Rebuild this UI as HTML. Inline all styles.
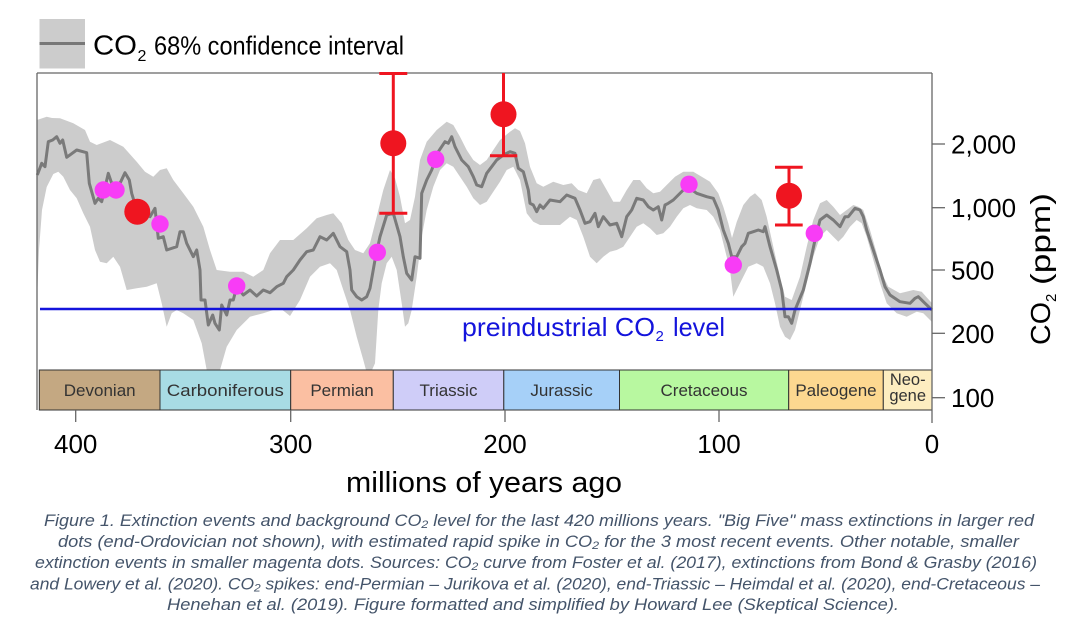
<!DOCTYPE html>
<html>
<head>
<meta charset="utf-8">
<style>
html,body{margin:0;padding:0;background:#fff;}
svg{display:block;}
text{font-family:"Liberation Sans",Arial,sans-serif;}
</style>
</head>
<body>
<svg width="1074" height="634" viewBox="0 0 1074 634" xmlns="http://www.w3.org/2000/svg">
<rect width="1074" height="634" fill="#fff"/>

<!-- legend -->
<rect x="39.5" y="19" width="45.5" height="49.5" fill="#cccccc"/>
<line x1="39.5" y1="43.5" x2="85" y2="43.5" stroke="#777" stroke-width="3"/>
<text x="93" y="54.5" font-size="28" textLength="44" lengthAdjust="spacingAndGlyphs" fill="#000">CO</text>
<text x="137.5" y="61" font-size="16" fill="#000">2</text>
<text x="154" y="54.5" font-size="26" textLength="250" lengthAdjust="spacingAndGlyphs" fill="#000">68% confidence interval</text>

<!-- confidence band -->
<polygon fill="#cccccc" points="
37,120 46.7,116.7 52,118 60,118.3 73.3,123.3 85,130 90,141.7 96.7,145 110,140 123.3,146.7 136.7,161.7 145,171.7 153.3,176.7 160,170 166.7,168.3 173.3,180 183.3,193.3 193.3,206.7 203.3,226.7 210,250 216.7,270 230,271.7 243.3,271.7 253.3,276.7 263.3,270 270,253.3 280,240 293.3,240 306.7,228.3 316.7,218.3 326.7,215 333.3,213.3 341.7,223.3 348.3,240 355,250 363.3,253.3 370,243.3 376.7,216.7 383.3,190 390,170 395,178.3 400,196.7 405,223.3 410,220 415,196.7 420,160 426.7,141.7 436.7,130 446.7,121.7 453.3,125 460,136.7 466.7,150 473.3,160 480,165 486.7,160 493.3,150 500,140 510,131.7 515,128.3 520,131 525,143.3 530,166.7 536.7,183.3 543.3,186.7 553.3,181.7 563.3,185 571.7,183.3 578.3,190 586.7,193.3 593.3,180 600,178.3 606.7,190 613.3,201.7 620,201.7 626.7,190 633.3,180 640,180 646.7,188.3 653.3,193.3 660,191.7 666.7,185 675,176.7 683.3,171.7 693.3,171.7 701.7,176.7 710,181.7 718.3,193.3 723.3,206.7 728.3,223.3 732,238 736.7,222 743.3,205 750,196.7 755,193.3 761.7,200 766.7,216.7 773.3,246.7 780,276.7 785,296.7 791.7,300 800,276.7 806.7,246.7 813.3,220 820,203.3 826.7,200 833.3,206.7 840,215 846.7,210 853.3,205 858.3,206.7 863.3,210 870,230 876.7,253.3 881.7,273.3 888.3,286.7 900,293.3 913.3,290 921.7,291.7 932,303.3
932,322 923.3,313.3 916.7,311.7 906.7,316.7 896.7,313.3 886.7,303.3 880,283.3 873.3,260 866.7,236.7 861.7,223.3 856.7,220 850,226.7 843.3,236.7 838.3,241.7 833.3,236.7 826.7,230 820,236.7 813.3,256.7 806.7,283.3 800,310 795,330 790,340 785,336.7 780,326.7 775,303.3 770,283.3 763.3,266.7 756.7,263.3 748.3,266.7 740,283.3 733.3,296.7 730,270 725,250 720,230 713.3,216.7 706.7,210 696.7,208.3 690,205 683.3,208.3 676.7,216.7 670,226.7 663.3,233.3 656.7,235 650,228.3 643.3,223.3 636.7,226.7 630,236.7 623.3,246.7 616.7,250 610,251.7 603.3,256.7 596.7,263.3 590,256.7 583.3,236.7 576.7,220 570,216.7 560,225 540,225 533.3,221.7 526.7,213.3 520,180 513.3,166.7 506.7,170 500,181.7 493.3,191.7 486.7,201.7 480,205 473.3,198.3 466.7,186.7 460,176.7 453.3,166.7 446.7,163.3 440,170 433.3,186.7 426.7,210 421.7,236.7 416.7,276.7 411.7,310 408.3,323.3 405,326.7 401.7,303.3 396.7,270 391.7,256.7 386.7,263.3 381.7,283.3 378.3,310 375,363.3 372,370 366,370 363.3,360 356.7,336.7 350,310 343.3,290 336.7,270 330,263.3 320,266.7 310,276.7 300,300 290,316 280,308 273.3,310 263.3,313.3 250,316.7 236.7,330 226.7,346.7 220,370 206.7,370 201.7,343.3 193.3,320 183.3,313.3 176.7,310 171.7,313.3 166.7,326.7 161.7,303.3 156.7,283.3 146.7,286.7 136.7,288.3 126.7,290 120,266.7 113.3,256.7 106.7,263.3 100,261.7 95,250 90,226.7 83.3,213.3 76.7,198.3 70,190 63.3,176.7 58.3,171.7 53.3,174 46.7,187 42,210 39,250 37,300"/>

<!-- mean line -->
<polyline fill="none" stroke="#7a7a7a" stroke-width="3" stroke-linejoin="round" points="
37.3,175 41.7,163.3 45,166.7 48.3,141.7 52.7,140 56.7,136.7 60,143.3 62.7,140 66.7,157.3 76.7,150 86.7,152.7 89.3,183.3 95,203.3 98.3,198.3 101.7,201.7 108.3,173.3 111.7,183.3 120,183.3 125,172.7 129.3,180 131.7,193.3 136.7,210 150,216.7 155,208.3 158.3,238.3 163.3,236.7 166.7,250 176.7,246.7 180,231.7 183.3,231.7 186.7,243.3 193.3,256.7 196.7,250 200,270 201,300 205,300 208.3,325 212.7,315 215,323.3 219.3,330 221.7,305 226.7,315 230,300 233.3,300 236.7,286.7 243.3,295 250,290 256.7,296 263.3,290 270,292.7 276.7,286.7 283.3,283.3 286.7,276.7 293.3,270 300,260 306.7,251.7 313.3,250 320,236.7 326.7,240 333.3,233.3 340,246.7 346.7,251.7 350,270 351.7,290 356.7,296.7 361.7,300 366.7,296.7 370,288.3 375,260 380,236.7 386.7,215 393.3,213.3 400,236.7 403.3,256.7 406.7,273.3 411.7,280 415,256.7 420,258.3 421.7,193.3 426.7,180 431.7,170 438.3,151.7 445,141.7 448.3,143.3 451.7,136.7 455,146.7 461.7,160 468.3,166.7 473.3,176.7 476.7,185 481.7,186.7 486.7,173.3 491.7,166.7 496.7,160 503.3,155 510,151.7 515,153.3 518.3,168.3 523.3,171.7 528.3,190 530,203.3 533.3,205 536.7,211.7 540,205 543.3,208.3 550,200 560,201.7 566.7,195 575,198.3 580,210 585,223.3 590,221.7 595,213.3 598.3,226.7 603.3,216.7 610,225 616.7,223.3 621.7,236.7 626.7,216.7 631.7,210 636.7,198.3 643.3,200 648.3,206.7 653.3,210 658.3,206.7 661.7,220 665,205 668.3,203.3 673.3,200 678.3,195 683.3,190 690,188.3 696.7,193.3 706.7,196.7 713.3,198.3 718.3,210 723.3,230 728.3,243.3 731.7,256.7 736.7,256.7 741.7,246.7 745,243.3 748.3,233.3 753.3,231.7 758.3,230 763.3,231.7 765,226.7 770,246.7 776.7,270 781.7,290 785,316.7 788.3,316.7 791.7,323.3 795,310 803.3,290 810,263.3 815,240 820,220 826.7,215 833.3,220 840,226.7 845,216.7 848.3,216.7 855,208.3 860,210 863.3,216.7 866.7,230 873.3,250 880,270 885,286.7 890,295 900,301.7 910,303.3 915,298.3 918.3,296.7 925,303.3 932,310"/>

<!-- preindustrial line -->
<line x1="40" y1="309" x2="932" y2="309" stroke="#1414dc" stroke-width="2.5"/>
<text x="462" y="336" font-size="26" textLength="193" lengthAdjust="spacingAndGlyphs" fill="#1414dc">preindustrial CO</text>
<text x="655.5" y="341" font-size="15" fill="#1414dc">2</text>
<text x="673" y="336" font-size="26" textLength="52" lengthAdjust="spacingAndGlyphs" fill="#1414dc">level</text>

<!-- period bar -->
<g stroke="#333" stroke-width="1">
<rect x="39.3" y="370" width="120.7" height="40" fill="#c4a882"/>
<rect x="160" y="370" width="130.7" height="40" fill="#a8dce4"/>
<rect x="290.7" y="370" width="102.6" height="40" fill="#fbbfa2"/>
<rect x="393.3" y="370" width="110.5" height="40" fill="#cfcdf8"/>
<rect x="503.8" y="370" width="115.7" height="40" fill="#a6d0f8"/>
<rect x="619.5" y="370" width="169.2" height="40" fill="#b8f8a0"/>
<rect x="788.7" y="370" width="94.6" height="40" fill="#fdd890"/>
<rect x="883.3" y="370" width="48.7" height="40" fill="#fdedc0"/>
</g>
<g font-size="17" fill="#333" text-anchor="middle">
<text x="99.7" y="396">Devonian</text>
<text x="225.3" y="396" textLength="117" lengthAdjust="spacingAndGlyphs">Carboniferous</text>
<text x="342" y="396">Permian</text>
<text x="448.5" y="396">Triassic</text>
<text x="561.6" y="396">Jurassic</text>
<text x="704" y="396">Cretaceous</text>
<text x="836" y="396">Paleogene</text>
<text x="907.7" y="385" font-size="16.5">Neo-</text>
<text x="907.7" y="401" font-size="16.5">gene</text>
</g>

<!-- frame and axes -->
<g stroke="#666" stroke-width="1.3" fill="none">
<line x1="37" y1="73" x2="932" y2="73"/>
<line x1="37" y1="73" x2="37" y2="410"/>
<line x1="932" y1="73" x2="932" y2="423"/>
<line x1="75.7" y1="410" x2="75.7" y2="422"/>
<line x1="290.7" y1="410" x2="290.7" y2="422"/>
<line x1="505" y1="410" x2="505" y2="422"/>
<line x1="719" y1="410" x2="719" y2="422"/>
<line x1="932" y1="144" x2="945" y2="144"/>
<line x1="932" y1="207.7" x2="945" y2="207.7"/>
<line x1="932" y1="270" x2="945" y2="270"/>
<line x1="932" y1="333.3" x2="945" y2="333.3"/>
<line x1="932" y1="397.7" x2="945" y2="397.7"/>
</g>
<g font-size="26" fill="#000">
<text x="951" y="153.5">2,000</text>
<text x="951" y="217">1,000</text>
<text x="951" y="279.5">500</text>
<text x="951" y="342.8">200</text>
<text x="951" y="407">100</text>
</g>
<g font-size="26" fill="#000" text-anchor="middle">
<text x="75.7" y="453">400</text>
<text x="290.7" y="453">300</text>
<text x="505" y="453">200</text>
<text x="719" y="453">100</text>
<text x="932" y="453">0</text>
</g>
<text x="346" y="492" font-size="29" textLength="276" lengthAdjust="spacingAndGlyphs" fill="#000">millions of years ago</text>

<g transform="translate(1050,345) rotate(-90)" fill="#000">
<text x="0" y="0" font-size="28" textLength="43" lengthAdjust="spacingAndGlyphs">CO</text>
<text x="43" y="6" font-size="15">2</text>
<text x="60" y="0" font-size="28" textLength="92" lengthAdjust="spacingAndGlyphs">(ppm)</text>
</g>

<!-- error bars -->
<g stroke="#ef1520" stroke-width="3" fill="none">
<line x1="393.3" y1="73.5" x2="393.3" y2="213.3"/>
<line x1="379.3" y1="73.5" x2="407.3" y2="73.5"/>
<line x1="379.3" y1="213.3" x2="407.3" y2="213.3"/>
<line x1="503.5" y1="73" x2="503.5" y2="155.7"/>
<line x1="490" y1="155.7" x2="517.3" y2="155.7"/>
<line x1="789" y1="167.3" x2="789" y2="225"/>
<line x1="775" y1="167.3" x2="802.7" y2="167.3"/>
<line x1="775" y1="225" x2="802.7" y2="225"/>
</g>

<!-- dots -->
<g fill="#ef1520">
<circle cx="137.3" cy="211.7" r="13"/>
<circle cx="393.3" cy="143.3" r="13"/>
<circle cx="503.5" cy="114.3" r="13"/>
<circle cx="789" cy="195.7" r="13"/>
</g>
<g fill="#f83cf6">
<circle cx="103.3" cy="190" r="8.7"/>
<circle cx="116" cy="190" r="8.7"/>
<circle cx="160" cy="224" r="8.7"/>
<circle cx="236.7" cy="286" r="8.7"/>
<circle cx="377.3" cy="252.3" r="8.7"/>
<circle cx="435.7" cy="159.3" r="8.7"/>
<circle cx="689" cy="184.3" r="8.7"/>
<circle cx="733.3" cy="265" r="8.7"/>
<circle cx="814.3" cy="233.3" r="8.7"/>
</g>

<!-- caption -->
<g font-size="17" font-style="italic" fill="#44546a">
<text x="44" y="526" textLength="990" lengthAdjust="spacingAndGlyphs">Figure 1. Extinction events and background CO₂  level for the last 420 millions years. "Big Five" mass extinctions in larger red</text>
<text x="58" y="547" textLength="961" lengthAdjust="spacingAndGlyphs">dots (end-Ordovician not shown), with estimated rapid spike in CO₂  for the 3 most recent events. Other notable, smaller</text>
<text x="35" y="568" textLength="1002" lengthAdjust="spacingAndGlyphs">extinction events in smaller magenta dots. Sources: CO₂ curve from Foster et al. (2017), extinctions from Bond &amp; Grasby (2016)</text>
<text x="30" y="589.5" textLength="1010" lengthAdjust="spacingAndGlyphs">and Lowery et al. (2020). CO₂ spikes: end-Permian – Jurikova et al. (2020), end-Triassic – Heimdal et al. (2020), end-Cretaceous –</text>
<text x="167" y="610" textLength="732" lengthAdjust="spacingAndGlyphs">Henehan et al. (2019). Figure formatted and simplified  by Howard Lee (Skeptical Science).</text>
</g>
</svg>
</body>
</html>
